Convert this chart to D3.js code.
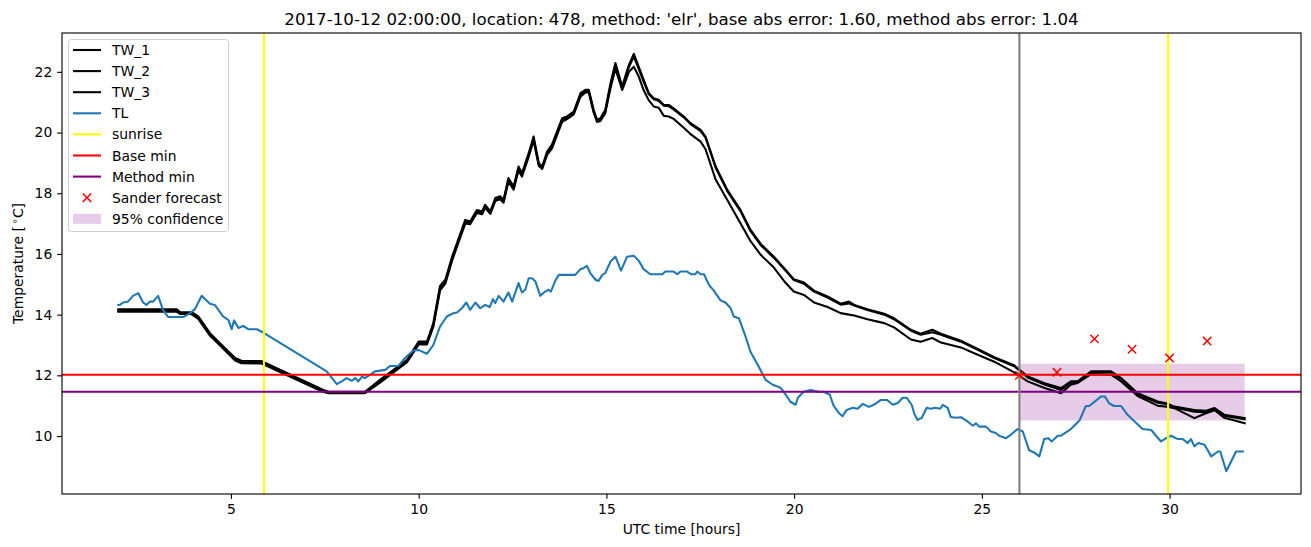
<!DOCTYPE html>
<html><head><meta charset="utf-8">
<script src="https://cdn.jsdelivr.net/npm/d3@7"></script>
<style>body{margin:0;background:#fff}svg{display:block}text{font-family:"DejaVu Sans",sans-serif}</style>
</head><body><svg id="c" width="1311" height="547"></svg>
<script>
const titleText = "2017-10-12 02:00:00, location: 478, method: 'elr', base abs error: 1.60, method abs error: 1.04";
const xTicks = [5, 10, 15, 20, 25, 30];
const yTicks = [10, 12, 14, 16, 18, 20, 22];
const xDomain = [0.5, 33.5];
const yDomain = [8.09, 23.28];

const twHours = [2.0,3.55,3.65,3.95,4.13,4.44,4.71,5.11,5.28,5.82,7.46,7.6,8.57,8.97,9.33,9.69,10.0,10.22,10.39,10.57,10.71,10.89,11.02,11.24,11.37,11.55,11.69,11.77,11.91,12.04,12.17,12.26,12.39,12.53,12.66,12.75,12.93,13.06,13.2,13.29,13.42,13.55,13.82,13.95,14.13,14.31,14.44,14.53,14.66,14.75,14.84,14.97,15.11,15.24,15.42,15.6,15.73,15.86,15.99,16.13,16.26,16.39,16.53,16.66,16.79,17.06,17.24,17.51,17.64,17.91,18.22,18.57,18.84,19.11,19.46,19.77,19.99,20.26,20.53,20.89,21.24,21.46,21.6,21.95,22.4,22.66,23.11,23.37,23.68,23.91,24.44,24.89,25.33,25.86,26.22,26.67,27.11,27.37,27.55,27.91,28.44,28.71,29.15,29.68,29.91,30.13,30.66,30.97,31.2,31.46,32.0];
const tw1 = [14.18,14.18,14.08,14.08,13.94,13.39,13.06,12.57,12.48,12.47,11.52,11.46,11.46,11.85,12.18,12.51,13.11,13.11,13.72,14.95,15.15,15.91,16.36,17.12,17.07,17.45,17.40,17.62,17.40,17.84,17.90,17.78,18.50,18.22,18.88,18.66,19.32,19.87,18.99,18.88,19.37,19.60,20.47,20.53,20.69,21.30,21.41,21.41,20.75,20.42,20.47,20.75,21.63,22.29,21.52,22.23,22.59,22.17,21.74,21.30,21.13,21.08,20.91,20.91,20.80,20.53,20.31,20.09,19.87,18.88,18.11,17.45,16.79,16.33,15.91,15.48,15.17,15.06,14.79,14.60,14.36,14.43,14.32,14.18,14.03,13.88,13.50,13.37,13.50,13.37,13.14,12.87,12.60,12.33,11.96,11.74,11.58,11.80,11.80,12.13,12.13,11.91,11.41,11.14,11.08,10.97,10.86,10.83,10.92,10.70,10.59];
const tw2 = [14.14,14.14,14.05,14.05,13.90,13.35,13.02,12.53,12.44,12.43,11.48,11.43,11.43,11.80,12.14,12.47,13.06,13.06,13.66,14.88,15.10,15.85,16.30,17.05,17.02,17.40,17.36,17.57,17.36,17.79,17.85,17.73,18.44,18.17,18.82,18.60,19.26,19.80,18.94,18.84,19.31,19.54,20.41,20.48,20.64,21.24,21.36,21.36,20.70,20.38,20.42,20.69,21.55,22.22,21.47,22.16,22.50,22.10,21.68,21.26,21.10,21.05,20.88,20.87,20.76,20.50,20.28,20.05,19.83,18.84,18.07,17.41,16.75,16.29,15.87,15.45,15.14,15.02,14.76,14.56,14.33,14.37,14.30,14.15,14.00,13.85,13.47,13.34,13.42,13.34,13.11,12.84,12.57,12.30,11.93,11.70,11.52,11.76,11.78,12.08,12.10,11.88,11.37,11.10,11.06,10.94,10.80,10.78,10.88,10.67,10.55];
const tw3 = [14.10,14.10,14.02,14.02,13.86,13.31,12.98,12.49,12.40,12.39,11.45,11.41,11.41,11.76,12.10,12.43,13.02,13.02,13.60,14.80,15.02,15.78,16.24,17.00,16.98,17.35,17.31,17.52,17.32,17.74,17.80,17.69,18.38,18.12,18.76,18.55,19.20,19.74,18.90,18.80,19.26,19.48,20.35,20.44,20.60,21.18,21.32,21.32,20.66,20.35,20.38,20.64,21.47,22.10,21.40,22.00,22.17,21.85,21.40,21.06,20.86,20.82,20.55,20.53,20.45,20.16,19.95,19.70,19.45,18.45,17.78,17.01,16.42,15.97,15.55,15.05,14.76,14.65,14.40,14.25,14.05,14.00,13.97,13.85,13.72,13.58,13.18,13.11,13.23,13.08,12.92,12.68,12.45,12.10,11.80,11.58,11.41,11.69,11.75,12.04,12.02,11.80,11.32,11.00,10.97,10.92,10.59,10.75,10.85,10.60,10.42];

const tlHours = [2.0,2.04,2.13,2.26,2.39,2.53,2.66,2.75,2.84,2.93,3.06,3.19,3.33,3.73,3.91,4.04,4.22,4.44,4.57,4.79,4.93,5.02,5.08,5.2,5.33,5.46,5.69,5.86,7.55,7.73,7.82,7.95,8.08,8.22,8.31,8.39,8.49,8.57,8.71,8.84,9.11,9.24,9.46,9.59,9.73,9.86,9.99,10.22,10.39,10.57,10.75,10.93,11.02,11.15,11.27,11.37,11.51,11.64,11.77,11.89,11.98,12.04,12.13,12.26,12.39,12.49,12.66,12.75,12.84,12.93,13.02,13.11,13.24,13.37,13.46,13.52,13.64,13.73,14.17,14.31,14.39,14.48,14.57,14.71,14.79,14.89,14.97,15.11,15.24,15.39,15.55,15.73,15.86,15.99,16.17,16.49,16.57,16.79,16.89,16.97,17.15,17.26,17.37,17.42,17.51,17.6,17.73,17.86,18.04,18.17,18.31,18.39,18.53,18.7,18.84,19.03,19.17,19.24,19.43,19.64,19.8,19.9,20.04,20.1,20.25,20.44,20.65,20.79,20.95,21.05,21.19,21.29,21.4,21.56,21.69,21.83,21.99,22.12,22.31,22.47,22.63,22.76,22.89,23.0,23.13,23.21,23.29,23.4,23.53,23.64,23.75,23.89,23.96,24.09,24.17,24.31,24.44,24.62,24.76,24.84,24.93,25.11,25.24,25.37,25.46,25.64,25.77,25.95,26.09,26.26,26.39,26.53,26.66,26.77,26.86,27.02,27.11,27.37,27.6,27.77,27.86,28.17,28.28,28.39,28.52,28.71,28.88,29.28,29.51,29.77,29.91,30.04,30.22,30.35,30.48,30.57,30.66,30.77,30.93,31.11,31.29,31.35,31.51,31.77,31.95];
const tl = [14.32,14.32,14.40,14.43,14.62,14.71,14.40,14.32,14.43,14.43,14.62,14.16,13.92,13.92,14.05,14.18,14.62,14.36,14.32,13.94,13.83,13.52,13.81,13.56,13.63,13.52,13.52,13.41,12.13,11.85,11.71,11.80,11.91,11.82,11.91,11.80,11.96,11.91,12.02,12.13,12.18,12.31,12.31,12.51,12.68,12.82,12.84,12.71,13.00,13.61,13.94,14.05,14.07,14.21,14.40,14.16,14.40,14.21,14.32,14.25,14.51,14.38,14.62,14.43,14.73,14.43,15.04,14.73,14.82,15.20,15.20,15.09,14.62,14.76,14.82,14.76,15.12,15.31,15.31,15.50,15.53,15.61,15.37,15.15,15.11,15.31,15.37,15.75,15.91,15.45,15.91,15.94,15.78,15.50,15.33,15.33,15.42,15.42,15.33,15.42,15.42,15.33,15.33,15.42,15.33,15.33,14.98,14.79,14.47,14.40,14.21,13.94,13.88,13.30,12.77,12.35,12.02,11.85,11.69,11.59,11.32,11.13,11.03,11.26,11.46,11.52,11.46,11.46,11.36,11.00,10.76,10.65,10.86,10.93,10.90,11.06,10.96,11.03,11.19,11.19,11.03,11.09,11.26,11.26,11.03,10.70,10.53,10.60,10.93,10.90,10.93,10.90,11.03,10.93,10.63,10.60,10.62,10.48,10.34,10.42,10.31,10.31,10.15,10.10,10.01,9.93,10.04,10.23,10.15,9.53,9.46,9.33,9.90,9.93,9.82,10.01,10.01,10.23,10.51,10.99,10.99,11.30,11.30,11.08,10.99,10.99,10.70,10.23,10.20,9.82,9.93,10.01,9.90,9.90,9.77,9.90,9.66,9.77,9.71,9.33,9.49,9.49,8.84,9.49,9.49];

const sunriseHours = [5.88, 29.96];
const forecastStart = [26.0];
const baseMin = [12.02];
const methodMin = [11.46];
const sanderHours = [26, 27, 28, 29, 30, 31];
const sanderValues = [12.0, 12.1, 13.2, 12.86, 12.57, 13.13];
const confHours = [26, 32];
const confLow = [10.51, 10.51];
const confHigh = [12.38, 12.38];

const legendLabels = ["TW_1","TW_2","TW_3","TL","sunrise","Base min","Method min","Sander forecast","95% confidence"];

const L = 62, R = 1301, T = 33, B = 494;
const LW = 2.08;
const svg = d3.select("#c");
const x = d3.scaleLinear().domain(xDomain).range([L, R]);
const y = d3.scaleLinear().domain(yDomain).range([B, T]);
const FS = 13.9;

svg.append("defs").append("clipPath").attr("id","clip")
  .append("rect").attr("x",L).attr("y",T).attr("width",R-L).attr("height",B-T);
const g = svg.append("g").attr("clip-path","url(#clip)");

// confidence band
const conf = confHours.map((h,i)=>({h, lo: confLow[i], hi: confHigh[i]}));
g.append("path").datum(conf)
  .attr("d", d3.area().x(d=>x(d.h)).y0(d=>y(d.lo)).y1(d=>y(d.hi)))
  .attr("fill","purple").attr("fill-opacity",0.2);

const line = d3.line().x(d=>x(d[0])).y(d=>y(d[1]));
[tw1, tw2, tw3].forEach(vals => {
  g.append("path").datum(twHours.map((h,i)=>[h, vals[i]]))
    .attr("d", line).attr("fill","none").attr("stroke","black").attr("stroke-width",LW)
    .attr("stroke-linejoin","round").attr("stroke-linecap","square");
});
g.append("path").datum(tlHours.map((h,i)=>[h, tl[i]]))
  .attr("d", line).attr("fill","none").attr("stroke","#1f77b4").attr("stroke-width",LW)
  .attr("stroke-linejoin","round").attr("stroke-linecap","square");

sunriseHours.forEach(h => g.append("line").attr("x1",x(h)).attr("x2",x(h)).attr("y1",T).attr("y2",B)
  .attr("stroke","yellow").attr("stroke-width",LW));
baseMin.forEach(v => g.append("line").attr("x1",L).attr("x2",R).attr("y1",y(v)).attr("y2",y(v))
  .attr("stroke","red").attr("stroke-width",LW));
methodMin.forEach(v => g.append("line").attr("x1",L).attr("x2",R).attr("y1",y(v)).attr("y2",y(v))
  .attr("stroke","purple").attr("stroke-width",LW));
forecastStart.forEach(h => g.append("line").attr("x1",x(h)).attr("x2",x(h)).attr("y1",T).attr("y2",B)
  .attr("stroke","gray").attr("stroke-width",LW));

function xMark(sel, cx, cy, s) {
  sel.append("path").attr("d",`M${cx-s},${cy-s}L${cx+s},${cy+s}M${cx-s},${cy+s}L${cx+s},${cy-s}`)
    .attr("stroke","red").attr("stroke-width",1.5).attr("fill","none");
}
sanderHours.forEach((h,i)=> xMark(g, x(h), y(sanderValues[i]), 4.17));

// axes
const xAxis = svg.append("g").attr("transform",`translate(0,${B})`)
  .call(d3.axisBottom(x).tickValues(xTicks).tickSize(4.86).tickPadding(4.86).tickFormat(d3.format("d")));
const yAxis = svg.append("g").attr("transform",`translate(${L},0)`)
  .call(d3.axisLeft(y).tickValues(yTicks).tickSize(4.86).tickPadding(4.86).tickFormat(d3.format("d")));
[xAxis, yAxis].forEach(a => {
  a.select(".domain").remove();
  a.selectAll("line").attr("stroke","black").attr("stroke-width",1.11);
  a.selectAll("text").attr("font-size",FS).attr("font-family","DejaVu Sans").attr("fill","black");
});
svg.append("rect").attr("x",L).attr("y",T).attr("width",R-L).attr("height",B-T)
  .attr("fill","none").attr("stroke","black").attr("stroke-width",1.11);

// labels
svg.append("text").attr("x",(L+R)/2).attr("y",24.5).attr("text-anchor","middle")
  .attr("font-size",16.67).text(titleText);
svg.append("text").attr("x",(L+R)/2).attr("y",534).attr("text-anchor","middle")
  .attr("font-size",FS).text("UTC time [hours]");
const yl = svg.append("text").attr("transform",`translate(23,${(T+B)/2}) rotate(-90)`)
  .attr("text-anchor","middle").attr("font-size",FS);
yl.append("tspan").text("Temperature [");
yl.append("tspan").attr("font-size",9.7).attr("dy",-5).attr("dx",2).text("∘");
yl.append("tspan").attr("dy",5).text("C]");

// legend
const lg = svg.append("g");
lg.append("rect").attr("x",68.5).attr("y",39.5).attr("width",160).attr("height",192).attr("rx",3)
  .attr("fill","white").attr("fill-opacity",0.8).attr("stroke","#cccccc").attr("stroke-width",1);
const legendStyles = [
  {type:"line", c:"black"},{type:"line", c:"black"},{type:"line", c:"black"},
  {type:"line", c:"#1f77b4"},{type:"line", c:"yellow"},{type:"line", c:"red"},
  {type:"line", c:"purple"},{type:"x", c:"red"},{type:"patch", c:"purple"}];
legendLabels.forEach((lab,i) => {
  const cy = 50 + i*21.1;
  const s = legendStyles[i];
  if (s.type === "line") lg.append("line").attr("x1",73).attr("x2",101).attr("y1",cy).attr("y2",cy)
    .attr("stroke",s.c).attr("stroke-width",LW);
  else if (s.type === "x") xMark(lg, 87, cy, 4.17);
  else lg.append("rect").attr("x",73).attr("y",cy-5).attr("width",28).attr("height",10)
    .attr("fill",s.c).attr("fill-opacity",0.2);
  lg.append("text").attr("x",112).attr("y",cy+5).attr("font-size",FS).text(lab);
});
</script></body></html>
